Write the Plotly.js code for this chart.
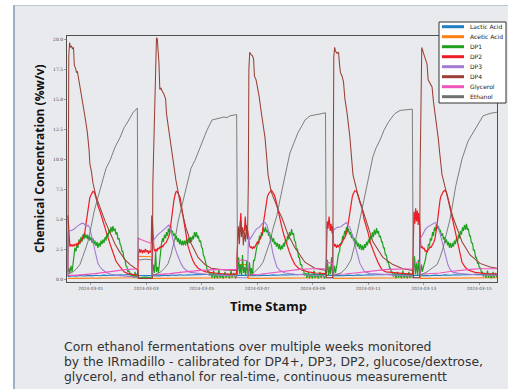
<!DOCTYPE html>
<html><head><meta charset="utf-8">
<script src="https://cdn.plot.ly/plotly-3.0.1.min.js"></script>
<style>
html,body{margin:0;padding:0;background:#fff;width:508px;height:389px;overflow:hidden}
#frame{position:absolute;left:13px;top:5px;width:500px;height:390px;background:#e9eaee;border-left:2px solid #9db0c2;border-top:1px solid #b9c7d4}
#chart{position:absolute;left:0;top:0;width:508px;height:389px}
#caption{position:absolute;left:64px;top:339px;font-family:'DejaVu Sans',sans-serif;font-size:12.4px;line-height:15px;color:#333;white-space:nowrap}
</style></head><body>
<div id="frame"></div><div id="chart"></div><div id="caption"></div>
<script>
// time = days since 2024-02-29 00:00, value = %w/v
const seriesNames = ['Lactic Acid','Acetic Acid','DP1','DP2','DP3','DP4','Glycerol','Ethanol'];
const seriesColors = ['#1f7fc4','#ff7f0e','#1fa11f','#ee1c25','#a47bd4','#9a4034','#ee55bb','#707070'];
const seriesWidths = [1.1,1.1,1.2,1.2,1.1,1.05,1.1,0.9];

const lactic = [[0.18,0.2],[0.33,0.28],[0.47,0.24],[0.61,0.3],[0.76,0.25],[0.90,0.3],[1.05,0.26],[1.19,0.31],[1.34,0.27],[1.48,0.32],[1.62,0.29],[1.77,0.34],[1.91,0.3],[2.06,0.36],[2.20,0.33],[2.34,0.38],[2.49,0.35],[2.69,0.4],
[2.71,0.3],[3.19,0.3],
[3.23,0.25],[3.35,0.3],[3.50,0.26],[3.64,0.32],[3.79,0.28],[3.93,0.33],[4.07,0.3],[4.22,0.35],[4.36,0.31],[4.50,0.36],[4.65,0.33],[4.79,0.38],[4.94,0.35],[5.12,0.4],[5.30,0.36],[5.48,0.41],[5.66,0.37],[5.84,0.42],[6.02,0.38],[6.25,0.4],
[6.28,0.3],[6.65,0.3],
[6.69,0.25],[6.85,0.3],[7.05,0.27],[7.21,0.32],[7.39,0.29],[7.57,0.34],[7.75,0.31],[7.93,0.36],[8.11,0.33],[8.29,0.38],[8.47,0.35],[8.65,0.4],[8.83,0.37],[9.01,0.41],[9.19,0.38],[9.46,0.4],
[9.49,0.3],[9.72,0.3],
[9.75,0.25],[9.91,0.3],[10.09,0.27],[10.27,0.32],[10.45,0.29],[10.63,0.34],[10.81,0.31],[10.99,0.36],[11.17,0.33],[11.35,0.38],[11.53,0.35],[11.71,0.4],[11.89,0.37],[12.07,0.41],[12.25,0.38],[12.60,0.4],
[12.62,0.3],[12.85,0.3],
[12.88,0.25],[13.05,0.3],[13.23,0.27],[13.41,0.32],[13.59,0.29],[13.77,0.34],[13.95,0.31],[14.13,0.36],[14.31,0.33],[14.49,0.38],[14.67,0.35],[14.85,0.4],[15.03,0.37],[15.21,0.41],[15.39,0.38],[15.64,0.4]];

const acetic = [[0.18,0.05],[2.69,0.1],[2.71,1.9],[3.19,1.85],[3.22,0.05],[6.25,0.1],[6.28,1.2],[6.65,1.2],[6.68,0.05],[9.46,0.1],[9.49,1.0],[9.72,1.0],[9.74,0.05],[12.60,0.1],[12.62,1.0],[12.85,1.0],[12.88,0.05],[15.64,0.1]];

const dp1 = [[0.18,0.5],[0.22,0.9],[0.25,0.5],[0.29,1.1],[0.33,0.6],[0.36,1.3],[0.40,1.8],[0.43,2.6],[0.47,2.3],[0.51,2.9],[0.54,2.6],[0.58,3.3],[0.61,2.9],[0.65,3.5],[0.69,3.1],[0.72,3.7],[0.76,3.3],[0.79,3.85],[0.83,3.4],[0.87,3.7],[0.90,3.3],[0.94,3.6],[0.97,3.2],[1.01,3.5],[1.05,3.0],[1.08,3.4],[1.12,2.9],[1.15,3.2],[1.19,2.75],[1.23,3.1],[1.26,2.6],[1.30,3.0],[1.34,2.7],[1.37,3.2],[1.41,2.9],[1.44,3.3],[1.48,3.0],[1.52,3.5],[1.55,3.2],[1.59,3.8],[1.62,3.5],[1.66,4.1],[1.70,3.8],[1.73,4.35],[1.77,3.9],[1.80,4.4],[1.84,4.0],[1.88,4.2],[1.91,3.7],[1.95,3.9],[1.98,3.3],[2.02,3.4],[2.06,2.9],[2.09,2.8],[2.13,2.3],[2.16,2.3],[2.20,1.7],[2.24,1.6],[2.27,1.1],[2.31,1.0],[2.34,0.6],[2.38,0.7],[2.42,0.3],[2.45,0.5],[2.49,0.15],[2.52,0.4],[2.56,0.1],[2.60,0.6],[2.63,0.1],[2.67,0.3],[2.70,0.05],
[2.72,0.1],[2.96,0.15],[3.19,0.1],
[3.23,0.4],[3.26,1.2],[3.30,0.5],[3.34,2.3],[3.37,0.6],[3.41,1.0],[3.44,0.5],[3.48,1.5],[3.52,2.5],[3.55,2.9],[3.59,3.4],[3.62,3.1],[3.66,3.7],[3.70,3.4],[3.73,3.9],[3.77,3.6],[3.80,4.2],[3.84,3.9],[3.88,4.4],[3.91,3.9],[3.95,4.0],[3.98,3.6],[4.02,3.8],[4.06,3.3],[4.09,3.6],[4.13,3.1],[4.16,3.4],[4.20,2.9],[4.23,3.3],[4.27,2.8],[4.31,3.2],[4.34,2.8],[4.38,3.2],[4.42,2.8],[4.45,3.3],[4.49,2.9],[4.52,3.4],[4.56,3.0],[4.60,3.5],[4.63,3.1],[4.67,3.6],[4.70,3.3],[4.74,3.9],[4.78,3.5],[4.81,3.9],[4.85,3.4],[4.88,3.6],[4.92,3.1],[4.96,3.2],[4.99,2.7],[5.03,2.5],[5.06,2.0],[5.10,1.8],[5.14,1.2],[5.17,1.1],[5.21,0.6],[5.25,0.7],[5.28,0.3],[5.34,0.5],[5.37,0.1],[5.43,0.7],[5.46,0.05],[5.51,0.4],[5.57,0.05],[5.62,0.8],[5.66,0.1],[5.73,0.3],[5.78,0.05],[5.84,0.6],[5.88,0.1],[5.95,0.4],[6.00,0.05],[6.06,0.7],[6.09,0.1],[6.16,0.5],[6.22,0.05],[6.27,0.3],
[6.29,0.5],[6.33,1.8],[6.37,0.4],[6.40,1.2],[6.44,0.3],[6.47,2.0],[6.51,0.5],[6.54,1.0],[6.58,0.3],[6.62,1.5],[6.65,0.4],
[6.69,0.3],[6.72,1.4],[6.76,0.4],[6.79,0.9],[6.83,0.3],[6.87,1.6],[6.90,1.5],[6.94,2.2],[6.97,2.4],[7.01,3.0],[7.05,2.9],[7.08,3.6],[7.12,3.3],[7.15,3.9],[7.19,3.6],[7.22,4.3],[7.26,3.9],[7.30,4.35],[7.33,3.9],[7.37,4.1],[7.41,3.6],[7.44,3.9],[7.48,3.4],[7.51,3.6],[7.55,3.1],[7.59,3.4],[7.62,2.9],[7.66,3.1],[7.69,2.7],[7.73,3.0],[7.77,2.5],[7.80,2.9],[7.84,2.4],[7.88,2.8],[7.91,2.5],[7.95,3.0],[7.98,2.7],[8.02,3.3],[8.06,3.0],[8.09,3.6],[8.13,3.3],[8.16,3.9],[8.20,3.6],[8.24,4.15],[8.27,3.7],[8.31,3.8],[8.34,3.2],[8.38,3.1],[8.41,2.5],[8.45,2.5],[8.49,1.8],[8.52,1.8],[8.56,1.2],[8.60,1.2],[8.63,0.7],[8.67,0.8],[8.70,0.3],[8.76,0.5],[8.79,0.1],[8.85,0.6],[8.88,0.05],[8.94,0.4],[8.99,0.05],[9.05,0.7],[9.08,0.1],[9.15,0.35],[9.21,0.05],[9.26,0.6],[9.30,0.1],[9.37,0.45],[9.42,0.05],[9.47,0.3],
[9.50,0.6],[9.53,1.6],[9.57,0.3],[9.61,1.0],[9.64,0.4],[9.68,1.8],[9.71,0.5],
[9.75,0.4],[9.79,1.1],[9.82,0.5],[9.86,1.0],[9.89,1.5],[9.93,2.1],[9.97,2.3],[10.00,3.0],[10.04,2.9],[10.08,3.6],[10.11,3.3],[10.15,4.0],[10.18,3.7],[10.22,4.35],[10.25,3.9],[10.29,4.2],[10.33,3.7],[10.36,3.9],[10.40,3.4],[10.43,3.7],[10.47,3.2],[10.50,3.4],[10.54,2.9],[10.58,3.2],[10.61,2.7],[10.65,3.0],[10.68,2.5],[10.72,2.9],[10.76,2.4],[10.79,2.8],[10.83,2.4],[10.87,2.9],[10.90,2.6],[10.94,3.1],[10.97,2.8],[11.01,3.3],[11.05,3.0],[11.08,3.6],[11.12,3.3],[11.15,3.9],[11.19,3.5],[11.22,4.1],[11.26,3.7],[11.30,4.25],[11.33,3.8],[11.37,4.0],[11.40,3.5],[11.44,3.6],[11.48,3.1],[11.51,3.1],[11.55,2.6],[11.58,2.6],[11.62,2.0],[11.66,2.0],[11.69,1.4],[11.73,1.4],[11.77,0.9],[11.80,0.9],[11.84,0.5],[11.87,0.6],[11.91,0.2],[11.96,0.5],[12.00,0.05],[12.05,0.6],[12.09,0.1],[12.14,0.4],[12.20,0.05],[12.25,0.7],[12.29,0.1],[12.36,0.35],[12.41,0.05],[12.47,0.6],[12.50,0.1],[12.56,0.4],[12.60,0.1],
[12.63,0.7],[12.67,1.9],[12.70,0.4],[12.74,1.3],[12.78,0.3],[12.81,1.6],[12.85,0.5],
[12.88,0.5],[12.92,1.2],[12.95,0.6],[12.99,1.0],[13.03,1.3],[13.06,1.6],[13.10,2.2],[13.14,2.4],[13.17,2.9],[13.21,2.8],[13.24,3.4],[13.28,3.2],[13.32,3.9],[13.35,3.6],[13.39,4.3],[13.42,4.0],[13.46,4.6],[13.50,4.2],[13.53,4.4],[13.57,3.9],[13.60,4.1],[13.64,3.6],[13.68,3.8],[13.71,3.3],[13.75,3.5],[13.78,3.0],[13.82,3.3],[13.86,2.8],[13.89,3.1],[13.93,2.6],[13.96,3.0],[14.00,2.6],[14.04,3.0],[14.07,2.7],[14.11,3.2],[14.14,2.9],[14.18,3.4],[14.22,3.1],[14.25,3.7],[14.29,3.4],[14.32,4.0],[14.36,3.7],[14.40,4.3],[14.43,4.0],[14.47,4.5],[14.51,4.1],[14.54,4.6],[14.58,4.1],[14.61,4.2],[14.65,3.6],[14.68,3.6],[14.72,3.0],[14.76,3.0],[14.79,2.4],[14.83,2.4],[14.87,1.8],[14.90,1.8],[14.94,1.3],[14.97,1.3],[15.01,0.9],[15.05,0.9],[15.08,0.5],[15.12,0.6],[15.15,0.2],[15.21,0.5],[15.24,0.1],[15.30,0.7],[15.33,0.1],[15.39,0.4],[15.44,0.05],[15.50,0.6],[15.53,0.1],[15.59,0.5],[15.63,0.15]];

const dp2 = [[0.18,5.3],[0.20,4.2],[0.22,3.0],[0.25,2.7],[0.29,2.9],[0.33,2.7],[0.36,2.85],[0.40,2.75],[0.43,2.9],[0.47,2.8],[0.51,3.0],[0.54,2.85],[0.58,3.1],[0.61,3.0],[0.65,3.2],[0.69,3.3],[0.72,3.5],[0.76,3.7],[0.79,3.9],[0.83,4.6],[0.87,5.3],[0.90,5.9],[0.94,6.5],[0.97,6.8],[1.01,7.0],[1.05,7.2],[1.08,7.3],[1.12,7.25],[1.15,7.1],[1.21,6.6],[1.26,6.1],[1.34,5.6],[1.41,5.0],[1.48,4.4],[1.59,3.7],[1.70,2.9],[1.80,2.2],[1.91,1.5],[2.06,1.0],[2.20,0.6],[2.34,0.45],[2.52,0.35],[2.69,0.3],
[2.72,2.1],[2.76,2.5],[2.79,2.2],[2.83,2.45],[2.87,2.15],[2.90,2.4],[2.94,2.2],[2.97,2.5],[3.01,2.25],[3.05,2.4],[3.08,2.1],[3.12,2.35],[3.15,2.2],[3.18,2.4],
[3.20,5.3],[3.23,4.6],[3.26,3.2],[3.28,2.5],[3.32,2.3],[3.35,2.5],[3.39,2.3],[3.42,2.6],[3.46,2.5],[3.50,2.7],[3.53,2.6],[3.57,2.8],[3.60,2.7],[3.64,2.9],[3.68,3.0],[3.71,3.0],[3.75,3.3],[3.79,3.4],[3.82,3.6],[3.86,3.9],[3.89,4.6],[3.93,5.4],[3.97,6.0],[4.00,6.6],[4.04,7.0],[4.07,7.25],[4.11,7.3],[4.14,7.2],[4.18,7.0],[4.22,6.8],[4.27,6.1],[4.33,5.2],[4.38,4.5],[4.43,3.5],[4.50,2.8],[4.58,2.2],[4.67,1.6],[4.76,1.2],[4.87,0.9],[4.97,0.75],[5.15,0.6],[5.48,0.5],[5.84,0.4],[6.25,0.4],
[6.29,4.0],[6.32,4.3],[6.35,3.9],[6.38,4.2],[6.41,5.5],[6.44,4.0],[6.47,4.3],[6.50,3.8],[6.54,4.1],[6.57,5.2],[6.60,4.0],[6.63,4.2],[6.66,4.0],
[6.69,3.0],[6.72,2.8],[6.76,2.6],[6.79,2.7],[6.83,2.5],[6.87,2.7],[6.90,2.6],[6.94,2.8],[6.97,2.9],[7.01,3.1],[7.05,3.0],[7.08,3.3],[7.12,3.4],[7.15,3.6],[7.19,3.9],[7.22,4.6],[7.26,5.3],[7.30,5.9],[7.33,6.5],[7.37,6.9],[7.41,7.1],[7.46,7.3],[7.51,7.4],[7.57,7.2],[7.62,7.0],[7.68,6.5],[7.75,5.7],[7.82,5.0],[7.89,4.3],[7.97,3.6],[8.06,2.9],[8.15,2.3],[8.25,1.7],[8.36,1.2],[8.49,0.9],[8.61,0.75],[8.83,0.6],[9.12,0.5],[9.46,0.45],
[9.49,1.5],[9.52,4.8],[9.55,4.2],[9.59,5.2],[9.63,4.0],[9.66,4.6],[9.70,3.8],[9.72,4.4],
[9.75,3.0],[9.79,2.7],[9.82,2.9],[9.86,2.6],[9.89,2.8],[9.93,2.7],[9.97,2.9],[10.00,2.8],[10.04,3.0],[10.08,3.1],[10.11,3.3],[10.15,3.4],[10.18,3.6],[10.22,3.8],[10.25,4.2],[10.29,4.8],[10.33,5.4],[10.36,6.0],[10.40,6.5],[10.43,6.9],[10.47,7.15],[10.52,7.35],[10.58,7.3],[10.63,7.0],[10.70,6.4],[10.78,5.9],[10.85,5.0],[10.92,4.5],[10.99,3.9],[11.08,3.0],[11.17,2.4],[11.26,1.9],[11.37,1.3],[11.50,0.75],[11.64,0.6],[11.97,0.5],[12.33,0.45],[12.60,0.4],
[12.62,3.5],[12.65,5.6],[12.68,4.6],[12.71,5.9],[12.74,4.8],[12.77,5.7],[12.80,4.5],[12.82,5.5],[12.85,4.9],
[12.88,2.8],[12.90,2.6],[12.94,2.7],[12.98,2.5],[13.01,2.6],[13.05,2.3],[13.08,2.4],[13.12,2.2],[13.15,2.4],[13.19,2.5],[13.23,2.7],[13.26,2.6],[13.30,2.8],[13.33,2.9],[13.37,3.1],[13.41,3.4],[13.44,3.8],[13.48,4.5],[13.52,5.3],[13.55,6.0],[13.59,6.6],[13.62,6.9],[13.66,7.1],[13.71,7.3],[13.77,7.4],[13.82,7.2],[13.87,6.75],[13.95,5.9],[14.02,5.1],[14.09,4.3],[14.20,3.1],[14.29,2.2],[14.38,1.4],[14.49,1.0],[14.60,0.75],[14.85,0.55],[15.21,0.45],[15.64,0.4]];

const dp3 = [[0.17,0.2],[0.19,3.9],[0.25,4.0],[0.33,4.05],[0.40,4.15],[0.47,4.3],[0.54,4.45],[0.61,4.55],[0.69,4.65],[0.76,4.6],[0.83,4.35],[0.90,4.5],[0.96,4.3],[1.01,3.8],[1.07,3.1],[1.12,2.5],[1.19,1.8],[1.26,1.3],[1.34,1.0],[1.44,0.75],[1.59,0.5],[1.77,0.35],[2.06,0.28],[2.42,0.2],[2.69,0.15],
[2.71,0.05],[3.19,0.05],
[3.21,0.6],[3.24,2.8],[3.28,3.3],[3.35,3.5],[3.42,3.7],[3.53,3.9],[3.62,4.1],[3.71,4.3],[3.77,4.4],[3.82,4.5],[3.88,4.1],[3.93,3.6],[3.98,3.0],[4.04,2.6],[4.11,2.1],[4.18,1.6],[4.25,1.3],[4.34,0.95],[4.43,0.75],[4.58,0.55],[4.87,0.45],[5.30,0.35],[5.84,0.3],[6.25,0.25],
[6.28,0.1],[6.65,0.1],
[6.68,3.1],[6.70,3.6],[6.74,3.3],[6.79,3.5],[6.85,3.8],[6.92,4.0],[6.99,4.2],[7.07,4.3],[7.14,4.5],[7.21,4.7],[7.28,4.7],[7.35,4.5],[7.41,4.0],[7.46,3.3],[7.51,2.7],[7.57,2.1],[7.64,1.5],[7.71,1.0],[7.82,0.7],[8.00,0.5],[8.36,0.4],[8.91,0.3],[9.46,0.25],
[9.49,0.1],[9.72,0.1],
[9.74,4.0],[9.81,4.2],[9.88,4.3],[9.95,4.3],[10.02,4.35],[10.09,4.5],[10.16,4.65],[10.22,4.7],[10.27,4.5],[10.34,4.3],[10.41,3.8],[10.49,3.1],[10.56,2.5],[10.63,1.9],[10.70,1.3],[10.78,0.95],[10.87,0.6],[11.07,0.45],[11.60,0.35],[12.15,0.3],[12.60,0.25],
[12.62,0.1],[12.85,0.1],
[12.87,3.4],[12.92,3.5],[12.98,3.8],[13.05,4.1],[13.12,4.3],[13.19,4.4],[13.26,4.5],[13.33,4.6],[13.41,4.7],[13.48,4.6],[13.55,4.2],[13.62,3.5],[13.68,3.0],[13.73,2.5],[13.80,1.8],[13.87,1.2],[13.95,0.8],[14.06,0.55],[14.31,0.45],[14.85,0.35],[15.64,0.3]];

const dp4 = [[0.18,0.6],[0.21,18.6],[0.24,19.7],[0.27,19.3],[0.31,19.4],[0.34,19.2],[0.38,19.3],[0.41,17.8],[0.45,17.6],[0.49,17.2],[0.52,17.3],[0.56,16.8],[0.61,16.2],[0.69,15.2],[0.76,14.0],[0.83,13.0],[0.88,12.2],[0.94,10.8],[0.97,9.6],[1.03,8.9],[1.08,8.0],[1.19,6.9],[1.34,5.9],[1.52,4.8],[1.70,3.85],[1.88,2.9],[2.06,2.2],[2.24,1.6],[2.42,1.2],[2.56,0.95],[2.70,0.75],
[2.73,0.05],[3.20,0.05],
[3.22,0.05],[3.24,8.0],[3.30,15.0],[3.34,17.5],[3.37,20.1],[3.40,20.0],[3.43,19.3],[3.46,18.0],[3.49,15.8],[3.53,15.9],[3.59,15.6],[3.64,15.4],[3.70,15.0],[3.73,13.8],[3.79,12.8],[3.86,11.6],[3.97,9.9],[4.07,8.25],[4.25,6.0],[4.43,4.3],[4.61,3.0],[4.87,1.8],[5.12,1.2],[5.34,0.9],[5.84,0.75],[6.27,0.72],
[6.29,3.2],[6.32,4.4],[6.36,2.9],[6.39,4.8],[6.43,3.5],[6.47,4.2],[6.50,2.8],[6.54,3.9],[6.58,3.1],[6.61,4.5],[6.65,3.3],
[6.68,8.0],[6.70,17.5],[6.73,18.9],[6.78,18.7],[6.83,18.6],[6.87,18.3],[6.90,16.9],[6.96,16.6],[7.01,16.0],[7.07,15.2],[7.14,14.0],[7.21,12.8],[7.28,11.8],[7.34,10.2],[7.39,8.7],[7.50,7.3],[7.64,6.4],[7.77,5.7],[7.89,5.1],[8.11,3.7],[8.36,2.6],[8.72,1.4],[9.08,0.9],[9.48,0.72],
[9.50,0.1],[9.72,0.1],
[9.74,9.0],[9.76,18.5],[9.79,19.3],[9.82,19.0],[9.88,18.8],[9.93,18.9],[9.97,17.8],[10.00,17.2],[10.06,16.9],[10.11,16.4],[10.16,15.0],[10.24,13.8],[10.34,11.8],[10.40,10.0],[10.45,8.7],[10.63,7.0],[10.89,5.1],[11.17,3.1],[11.53,1.8],[11.89,1.2],[12.25,0.85],[12.61,0.72],
[12.64,0.1],[12.85,0.1],
[12.87,9.0],[12.90,18.0],[12.93,19.3],[12.98,18.9],[13.02,18.6],[13.07,18.3],[13.12,17.9],[13.16,16.6],[13.23,16.3],[13.30,16.0],[13.35,14.8],[13.41,13.8],[13.52,11.8],[13.59,10.2],[13.66,8.7],[13.84,7.0],[14.06,5.1],[14.38,3.1],[14.67,2.0],[15.03,1.3],[15.39,1.0],[15.64,0.9]];

const glycerol = [[0.16,2.6],[0.18,0.3],[0.43,0.3],[0.79,0.35],[1.15,0.45],[1.52,0.55],[1.88,0.68],[2.24,0.78],[2.69,0.85],
[2.71,3.4],[2.81,3.3],[2.96,3.15],[3.06,3.05],[3.19,2.95],
[3.22,0.35],[3.50,0.38],[3.86,0.45],[4.22,0.55],[4.58,0.65],[4.94,0.72],[5.48,0.78],[6.25,0.8],
[6.28,1.5],[6.45,1.6],[6.65,1.5],
[6.68,0.35],[7.10,0.4],[7.46,0.5],[7.82,0.6],[8.18,0.72],[8.54,0.8],[8.97,0.85],[9.46,0.85],
[9.49,1.4],[9.72,1.3],
[9.74,0.4],[10.16,0.42],[10.52,0.5],[10.88,0.6],[11.24,0.7],[11.60,0.78],[11.97,0.82],[12.60,0.85],
[12.62,1.4],[12.85,1.4],
[12.88,0.4],[13.23,0.42],[13.59,0.5],[13.95,0.62],[14.31,0.72],[14.67,0.8],[15.03,0.85],[15.64,0.85]];

const ethanol = [[0.18,0.4],[0.33,0.55],[0.47,0.8],[0.61,1.2],[0.72,1.9],[0.83,2.7],[0.90,3.1],[1.01,4.3],[1.12,5.6],[1.26,6.8],[1.44,8.2],[1.55,9.2],[1.70,9.9],[1.88,11.0],[2.06,11.8],[2.20,12.6],[2.31,13.0],[2.42,13.5],[2.52,13.85],[2.68,14.25],
[2.71,1.6],[2.81,1.6],[2.96,1.65],[3.19,1.6],
[3.22,0.3],[3.35,0.4],[3.53,0.6],[3.68,0.95],[3.79,1.3],[3.89,2.0],[3.97,2.7],[4.07,3.7],[4.14,4.7],[4.33,6.6],[4.50,8.25],[4.61,9.2],[4.76,9.9],[4.94,11.0],[5.05,11.6],[5.19,12.4],[5.37,13.25],[5.51,13.35],[5.66,13.4],[5.80,13.5],[5.91,13.45],[6.02,13.6],[6.26,13.7],
[6.29,0.9],[6.65,0.9],
[6.68,0.3],[6.81,0.4],[6.92,0.6],[7.07,0.95],[7.21,1.4],[7.32,2.1],[7.46,3.1],[7.57,4.2],[7.71,5.3],[7.82,6.6],[7.92,7.8],[8.04,9.0],[8.18,10.5],[8.33,11.4],[8.47,12.2],[8.62,12.8],[8.72,13.25],[8.91,13.6],[9.08,13.7],[9.26,13.75],[9.46,13.85],
[9.49,0.8],[9.72,0.8],
[9.74,0.3],[9.88,0.4],[10.02,0.5],[10.20,0.9],[10.38,1.6],[10.49,2.6],[10.60,3.8],[10.70,5.1],[10.85,6.6],[10.99,8.25],[11.17,10.2],[11.28,10.9],[11.43,11.6],[11.57,12.4],[11.71,13.0],[11.86,13.5],[11.97,13.8],[12.15,14.05],[12.36,14.1],[12.59,14.15],
[12.62,0.8],[12.85,0.8],
[12.87,0.3],[13.01,0.45],[13.12,0.6],[13.30,0.9],[13.48,1.2],[13.59,1.8],[13.70,2.6],[13.80,3.6],[13.95,5.0],[14.16,7.8],[14.38,10.0],[14.60,11.5],[14.92,12.8],[15.14,13.6],[15.39,13.8],[15.64,13.9]];

const seriesData = [lactic, acetic, dp1, dp2, dp3, dp4, glycerol, ethanol];
const yTicks = [0, 2.5, 5, 7.5, 10, 12.5, 15, 17.5, 20];
const captionLines = ['Corn ethanol fermentations over multiple weeks monitored',
  'by the IRmadillo - calibrated for DP4+, DP3, DP2, glucose/dextrose,',
  'glycerol, and ethanol for real-time, continuous measurementt'];

const T0 = Date.UTC(2024, 1, 29, 0, 0, 0);
function toDate(d) {
  const dt = new Date(T0 + d * 86400000);
  const p = n => String(n).padStart(2, '0');
  return dt.getUTCFullYear() + '-' + p(dt.getUTCMonth() + 1) + '-' + p(dt.getUTCDate()) + ' ' +
    p(dt.getUTCHours()) + ':' + p(dt.getUTCMinutes()) + ':' + p(dt.getUTCSeconds());
}

const traces = seriesData.map((s, i) => ({
  type: 'scatter', mode: 'lines', name: seriesNames[i],
  x: s.map(p => toDate(p[0])), y: s.map(p => p[1]),
  line: {color: seriesColors[i], width: seriesWidths[i]},
  showlegend: false, hoverinfo: 'skip'
}));

// pixel -> paper helpers (plot area 67..497 x 36..282)
const PL = 67, PR = 497, PT = 36, PB = 282;
const px = x => (x - PL) / (PR - PL);
const py = y => (PB - y) / (PB - PT);

const shapes = [{type: 'rect', xref: 'paper', yref: 'paper', x0: px(439), x1: px(506), y0: py(103), y1: py(22),
  fillcolor: '#ffffff', line: {color: '#333', width: 1}, layer: 'above'}];
const annotations = [];
seriesNames.forEach((n, i) => {
  const yy = 26.7 + i * 10;
  shapes.push({type: 'line', xref: 'paper', yref: 'paper', x0: px(442), x1: px(464), y0: py(yy), y1: py(yy),
    line: {color: seriesColors[i], width: 3}, layer: 'above'});
  annotations.push({xref: 'paper', yref: 'paper', x: px(467.5), y: py(yy), xanchor: 'left', yanchor: 'middle',
    text: n, showarrow: false, font: {family: 'DejaVu Sans', size: 6, color: '#222'}});
});
annotations.push({xref: 'paper', yref: 'paper', x: px(39), y: py(159), textangle: -90, xanchor: 'center', yanchor: 'middle',
  text: 'Chemical Concentration (%w/v)', showarrow: false, font: {family: 'Open Sans', size: 12, weight: 700, color: '#111'}});
annotations.push({xref: 'paper', yref: 'paper', x: px(268), y: py(306), xanchor: 'center', yanchor: 'middle',
  text: 'Time Stamp', showarrow: false, font: {family: 'Open Sans', size: 13, weight: 700, color: '#111'}});

document.getElementById('caption').innerHTML = captionLines.map(t => '<div>' + t + '</div>').join('');

const layout = {
  width: 508, height: 389,
  margin: {l: 67, r: 11, t: 36, b: 107, pad: 0},
  paper_bgcolor: 'rgba(0,0,0,0)', plot_bgcolor: '#e9eaee',
  xaxis: {type: 'date', range: [toDate(0.146), toDate(15.641)], tick0: '2024-03-01', dtick: 172800000,
    tickformat: '%Y-%m-%d', tickfont: {family: 'DejaVu Sans', size: 4.3, color: '#555'},
    ticks: 'outside', ticklen: 2, tickwidth: 0.6, tickcolor: '#666',
    showline: true, mirror: true, linecolor: '#505050', linewidth: 1, showgrid: false, zeroline: false},
  yaxis: {range: [-0.25, 20.25], tickvals: yTicks, tickformat: '.1f',
    tickfont: {family: 'DejaVu Serif', size: 4.5, color: '#444'},
    ticks: 'outside', ticklen: 2, tickwidth: 0.6, tickcolor: '#666',
    showline: true, mirror: true, linecolor: '#505050', linewidth: 1, showgrid: false, zeroline: false},
  shapes: shapes, annotations: annotations, showlegend: false
};
Plotly.newPlot('chart', traces, layout, {staticPlot: true, displayModeBar: false});
</script></body></html>
